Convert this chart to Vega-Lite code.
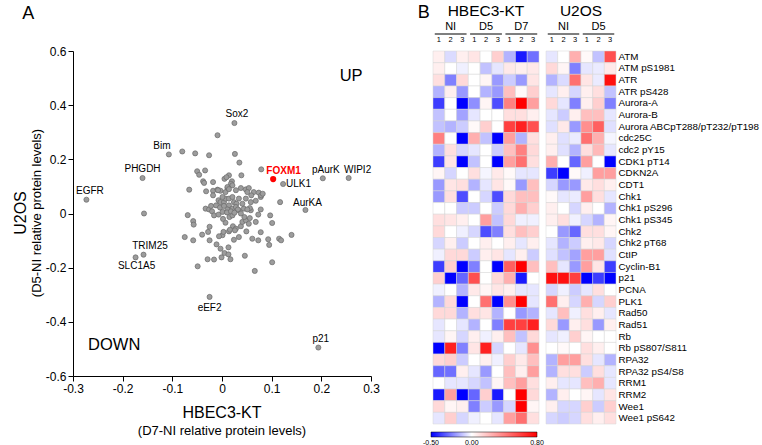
{
"$schema":"https://vega.github.io/schema/vega-lite/v6.json",
"padding":{"left":13,"top":3,"right":0,"bottom":0},
"datasets":{
"points":[{"x":-0.273,"y":0.051},{"x":-0.16,"y":0.131},{"x":-0.157,"y":0.0},{"x":-0.107,"y":0.218},{"x":-0.08,"y":0.229},{"x":-0.054,"y":0.222},{"x":-0.026,"y":0.215},{"x":-0.009,"y":0.289},{"x":0.025,"y":0.334},{"x":0.026,"y":0.22},{"x":0.035,"y":0.188},{"x":-0.05,"y":0.156},{"x":-0.046,"y":0.143},{"x":-0.034,"y":0.159},{"x":-0.038,"y":0.119},{"x":-0.036,"y":0.113},{"x":-0.018,"y":0.116},{"x":-0.066,"y":0.088},{"x":-0.032,"y":0.082},{"x":-0.018,"y":0.084},{"x":-0.009,"y":0.088},{"x":-0.003,"y":0.084},{"x":0.005,"y":0.128},{"x":0.014,"y":0.141},{"x":0.039,"y":0.141},{"x":0.079,"y":0.163},{"x":0.123,"y":0.109},{"x":0.203,"y":0.13},{"x":0.255,"y":0.131},{"x":0.168,"y":0.013},{"x":0.117,"y":0.042},{"x":0.009,"y":0.134},{"x":0.02,"y":0.119},{"x":0.018,"y":0.11},{"x":0.021,"y":0.104},{"x":0.011,"y":0.094},{"x":0.007,"y":0.079},{"x":0.028,"y":0.086},{"x":0.038,"y":0.094},{"x":0.048,"y":0.089},{"x":0.054,"y":0.094},{"x":0.051,"y":0.079},{"x":0.064,"y":0.079},{"x":0.074,"y":0.077},{"x":0.078,"y":0.061},{"x":0.068,"y":0.047},{"x":0.058,"y":0.042},{"x":0.058,"y":0.012},{"x":0.056,"y":0.02},{"x":0.078,"y":0.015},{"x":-0.007,"y":0.049},{"x":-0.003,"y":0.042},{"x":0.004,"y":0.042},{"x":0.007,"y":0.055},{"x":0.014,"y":0.055},{"x":0.021,"y":0.061},{"x":0.024,"y":0.042},{"x":0.029,"y":0.036},{"x":-0.018,"y":0.067},{"x":0.001,"y":0.061},{"x":0.014,"y":0.03},{"x":0.021,"y":0.018},{"x":0.034,"y":0.012},{"x":0.044,"y":0.018},{"x":0.041,"y":0.036},{"x":0.034,"y":0.055},{"x":0.048,"y":0.055},{"x":-0.008,"y":0.086},{"x":0.011,"y":0.098},{"x":0.014,"y":0.09},{"x":0.059,"y":0.067},{"x":0.079,"y":0.067},{"x":0.082,"y":0.073},{"x":-0.069,"y":-0.006},{"x":-0.033,"y":0.018},{"x":-0.026,"y":0.015},{"x":-0.02,"y":0.008},{"x":-0.016,"y":-0.007},{"x":-0.007,"y":-0.004},{"x":0.001,"y":0.006},{"x":0.011,"y":0.015},{"x":0.015,"y":-0.013},{"x":0.021,"y":-0.007},{"x":0.028,"y":0.024},{"x":0.032,"y":0.015},{"x":0.051,"y":0.015},{"x":0.073,"y":-0.004},{"x":0.097,"y":-0.007},{"x":-0.058,"y":-0.028},{"x":-0.057,"y":-0.041},{"x":-0.075,"y":-0.087},{"x":-0.058,"y":-0.099},{"x":-0.04,"y":-0.078},{"x":-0.028,"y":-0.068},{"x":-0.025,"y":-0.049},{"x":-0.025,"y":-0.099},{"x":-0.158,"y":-0.152},{"x":-0.174,"y":-0.162},{"x":-0.049,"y":-0.195},{"x":-0.029,"y":-0.169},{"x":-0.016,"y":-0.17},{"x":-0.001,"y":-0.162},{"x":-0.025,"y":-0.308},{"x":0.066,"y":-0.212},{"x":0.046,"y":-0.156},{"x":0.101,"y":-0.18},{"x":0.093,"y":-0.095},{"x":0.095,"y":-0.116},{"x":0.115,"y":-0.093},{"x":0.119,"y":-0.099},{"x":0.14,"y":-0.079},{"x":0.101,"y":-0.035},{"x":0.078,"y":-0.069},{"x":0.061,"y":-0.093},{"x":0.073,"y":-0.099},{"x":0.049,"y":-0.066},{"x":0.034,"y":-0.087},{"x":0.024,"y":-0.097},{"x":0.014,"y":-0.066},{"x":0.001,"y":-0.08},{"x":-0.006,"y":-0.084},{"x":0.003,"y":-0.068},{"x":-0.011,"y":-0.114},{"x":-0.003,"y":-0.13},{"x":0.013,"y":-0.125},{"x":0.005,"y":-0.146},{"x":0.013,"y":-0.151},{"x":0.017,"y":-0.169},{"x":0.007,"y":-0.034},{"x":0.022,"y":-0.047},{"x":0.028,"y":-0.056},{"x":0.038,"y":-0.047},{"x":0.041,"y":-0.031},{"x":0.048,"y":-0.025},{"x":0.045,"y":-0.013},{"x":0.056,"y":-0.017},{"x":0.194,"y":-0.495},{"x":-0.012,"y":0.03},{"x":-0.004,"y":0.022},{"x":0.004,"y":0.028},{"x":0.01,"y":0.004},{"x":0.018,"y":0.008},{"x":0.025,"y":0.003},{"x":0.038,"y":0.0},{"x":-0.022,"y":0.028},{"x":0.002,"y":-0.02},{"x":0.068,"y":-0.031},{"x":0.054,"y":-0.038},{"x":0.016,"y":-0.06},{"x":0.026,"y":-0.062}],
"labels":[{"label":"EGFR","x":-0.266,"y":0.082},{"label":"PHGDH","x":-0.16,"y":0.165},{"label":"Bim","x":-0.121,"y":0.249},{"label":"Sox2","x":0.03,"y":0.366},{"label":"ULK1","x":0.154,"y":0.11},{"label":"pAurK","x":0.209,"y":0.16},{"label":"WIPI2","x":0.273,"y":0.16},{"label":"AurKA","x":0.172,"y":0.039},{"label":"TRIM25","x":-0.145,"y":-0.12},{"label":"SLC1A5","x":-0.172,"y":-0.195},{"label":"eEF2","x":-0.025,"y":-0.349},{"label":"p21","x":0.199,"y":-0.464}],
"hbec":[
{"protein":"ATM","col":"NI-1","value":0.05},{"protein":"ATM","col":"NI-2","value":-0.07},{"protein":"ATM","col":"NI-3","value":0.05},{"protein":"ATM","col":"D5-1","value":0.08},{"protein":"ATM","col":"D5-2","value":0},{"protein":"ATM","col":"D5-3","value":0.15},{"protein":"ATM","col":"D7-1","value":-0.15},{"protein":"ATM","col":"D7-2","value":-0.45},{"protein":"ATM","col":"D7-3","value":-0.28},
{"protein":"ATM pS1981","col":"NI-1","value":0.05},{"protein":"ATM pS1981","col":"NI-2","value":0},{"protein":"ATM pS1981","col":"NI-3","value":-0.03},{"protein":"ATM pS1981","col":"D5-1","value":0},{"protein":"ATM pS1981","col":"D5-2","value":-0.12},{"protein":"ATM pS1981","col":"D5-3","value":-0.05},{"protein":"ATM pS1981","col":"D7-1","value":0.07},{"protein":"ATM pS1981","col":"D7-2","value":0.05},{"protein":"ATM pS1981","col":"D7-3","value":0.07},
{"protein":"ATR","col":"NI-1","value":0.1},{"protein":"ATR","col":"NI-2","value":-0.25},{"protein":"ATR","col":"NI-3","value":0.12},{"protein":"ATR","col":"D5-1","value":0},{"protein":"ATR","col":"D5-2","value":0.03},{"protein":"ATR","col":"D5-3","value":-0.2},{"protein":"ATR","col":"D7-1","value":-0.1},{"protein":"ATR","col":"D7-2","value":-0.2},{"protein":"ATR","col":"D7-3","value":0.08},
{"protein":"ATR pS428","col":"NI-1","value":-0.15},{"protein":"ATR pS428","col":"NI-2","value":0.05},{"protein":"ATR pS428","col":"NI-3","value":-0.2},{"protein":"ATR pS428","col":"D5-1","value":0},{"protein":"ATR pS428","col":"D5-2","value":-0.15},{"protein":"ATR pS428","col":"D5-3","value":-0.2},{"protein":"ATR pS428","col":"D7-1","value":0.2},{"protein":"ATR pS428","col":"D7-2","value":0.02},{"protein":"ATR pS428","col":"D7-3","value":0.15},
{"protein":"Aurora-A","col":"NI-1","value":-0.38},{"protein":"Aurora-A","col":"NI-2","value":0},{"protein":"Aurora-A","col":"NI-3","value":-0.5},{"protein":"Aurora-A","col":"D5-1","value":-0.22},{"protein":"Aurora-A","col":"D5-2","value":0.03},{"protein":"Aurora-A","col":"D5-3","value":-0.35},{"protein":"Aurora-A","col":"D7-1","value":0.4},{"protein":"Aurora-A","col":"D7-2","value":0.8},{"protein":"Aurora-A","col":"D7-3","value":0.3},
{"protein":"Aurora-B","col":"NI-1","value":-0.12},{"protein":"Aurora-B","col":"NI-2","value":0},{"protein":"Aurora-B","col":"NI-3","value":-0.18},{"protein":"Aurora-B","col":"D5-1","value":-0.05},{"protein":"Aurora-B","col":"D5-2","value":0},{"protein":"Aurora-B","col":"D5-3","value":0},{"protein":"Aurora-B","col":"D7-1","value":0.1},{"protein":"Aurora-B","col":"D7-2","value":0.1},{"protein":"Aurora-B","col":"D7-3","value":0.05},
{"protein":"Aurora ABCpT288/pT232/pT198","col":"NI-1","value":-0.12},{"protein":"Aurora ABCpT288/pT232/pT198","col":"NI-2","value":-0.15},{"protein":"Aurora ABCpT288/pT232/pT198","col":"NI-3","value":-0.1},{"protein":"Aurora ABCpT288/pT232/pT198","col":"D5-1","value":0.02},{"protein":"Aurora ABCpT288/pT232/pT198","col":"D5-2","value":0.15},{"protein":"Aurora ABCpT288/pT232/pT198","col":"D5-3","value":0},{"protein":"Aurora ABCpT288/pT232/pT198","col":"D7-1","value":0.6},{"protein":"Aurora ABCpT288/pT232/pT198","col":"D7-2","value":0.7},{"protein":"Aurora ABCpT288/pT232/pT198","col":"D7-3","value":0.55},
{"protein":"cdc25C","col":"NI-1","value":0.4},{"protein":"cdc25C","col":"NI-2","value":0},{"protein":"cdc25C","col":"NI-3","value":-0.5},{"protein":"cdc25C","col":"D5-1","value":0.25},{"protein":"cdc25C","col":"D5-2","value":-0.12},{"protein":"cdc25C","col":"D5-3","value":-0.5},{"protein":"cdc25C","col":"D7-1","value":0.3},{"protein":"cdc25C","col":"D7-2","value":-0.15},{"protein":"cdc25C","col":"D7-3","value":0.1},
{"protein":"cdc2 pY15","col":"NI-1","value":-0.15},{"protein":"cdc2 pY15","col":"NI-2","value":0.1},{"protein":"cdc2 pY15","col":"NI-3","value":-0.08},{"protein":"cdc2 pY15","col":"D5-1","value":-0.05},{"protein":"cdc2 pY15","col":"D5-2","value":0},{"protein":"cdc2 pY15","col":"D5-3","value":-0.1},{"protein":"cdc2 pY15","col":"D7-1","value":0.2},{"protein":"cdc2 pY15","col":"D7-2","value":0.4},{"protein":"cdc2 pY15","col":"D7-3","value":0.12},
{"protein":"CDK1 pT14","col":"NI-1","value":-0.38},{"protein":"CDK1 pT14","col":"NI-2","value":0.08},{"protein":"CDK1 pT14","col":"NI-3","value":-0.5},{"protein":"CDK1 pT14","col":"D5-1","value":-0.12},{"protein":"CDK1 pT14","col":"D5-2","value":0},{"protein":"CDK1 pT14","col":"D5-3","value":-0.5},{"protein":"CDK1 pT14","col":"D7-1","value":0.3},{"protein":"CDK1 pT14","col":"D7-2","value":0.45},{"protein":"CDK1 pT14","col":"D7-3","value":0.1},
{"protein":"CDKN2A","col":"NI-1","value":0.03},{"protein":"CDKN2A","col":"NI-2","value":-0.08},{"protein":"CDKN2A","col":"NI-3","value":0},{"protein":"CDKN2A","col":"D5-1","value":0.1},{"protein":"CDKN2A","col":"D5-2","value":-0.02},{"protein":"CDKN2A","col":"D5-3","value":0.07},{"protein":"CDKN2A","col":"D7-1","value":0.02},{"protein":"CDKN2A","col":"D7-2","value":-0.05},{"protein":"CDKN2A","col":"D7-3","value":-0.05},
{"protein":"CDT1","col":"NI-1","value":-0.2},{"protein":"CDT1","col":"NI-2","value":0.08},{"protein":"CDT1","col":"NI-3","value":0.1},{"protein":"CDT1","col":"D5-1","value":-0.15},{"protein":"CDT1","col":"D5-2","value":-0.05},{"protein":"CDT1","col":"D5-3","value":0.08},{"protein":"CDT1","col":"D7-1","value":0.02},{"protein":"CDT1","col":"D7-2","value":-0.2},{"protein":"CDT1","col":"D7-3","value":0.2},
{"protein":"Chk1","col":"NI-1","value":-0.2},{"protein":"Chk1","col":"NI-2","value":0.1},{"protein":"Chk1","col":"NI-3","value":-0.35},{"protein":"Chk1","col":"D5-1","value":0},{"protein":"Chk1","col":"D5-2","value":-0.08},{"protein":"Chk1","col":"D5-3","value":-0.35},{"protein":"Chk1","col":"D7-1","value":0.12},{"protein":"Chk1","col":"D7-2","value":0.2},{"protein":"Chk1","col":"D7-3","value":0.2},
{"protein":"Chk1 pS296","col":"NI-1","value":0},{"protein":"Chk1 pS296","col":"NI-2","value":0},{"protein":"Chk1 pS296","col":"NI-3","value":-0.1},{"protein":"Chk1 pS296","col":"D5-1","value":-0.1},{"protein":"Chk1 pS296","col":"D5-2","value":0},{"protein":"Chk1 pS296","col":"D5-3","value":-0.1},{"protein":"Chk1 pS296","col":"D7-1","value":0.12},{"protein":"Chk1 pS296","col":"D7-2","value":0.25},{"protein":"Chk1 pS296","col":"D7-3","value":0.15},
{"protein":"Chk1 pS345","col":"NI-1","value":0.1},{"protein":"Chk1 pS345","col":"NI-2","value":0.08},{"protein":"Chk1 pS345","col":"NI-3","value":0.05},{"protein":"Chk1 pS345","col":"D5-1","value":0},{"protein":"Chk1 pS345","col":"D5-2","value":0.3},{"protein":"Chk1 pS345","col":"D5-3","value":-0.12},{"protein":"Chk1 pS345","col":"D7-1","value":0.12},{"protein":"Chk1 pS345","col":"D7-2","value":-0.03},{"protein":"Chk1 pS345","col":"D7-3","value":-0.03},
{"protein":"Chk2","col":"NI-1","value":0.12},{"protein":"Chk2","col":"NI-2","value":0},{"protein":"Chk2","col":"NI-3","value":-0.03},{"protein":"Chk2","col":"D5-1","value":-0.08},{"protein":"Chk2","col":"D5-2","value":-0.35},{"protein":"Chk2","col":"D5-3","value":-0.25},{"protein":"Chk2","col":"D7-1","value":0.1},{"protein":"Chk2","col":"D7-2","value":0.2},{"protein":"Chk2","col":"D7-3","value":0.15},
{"protein":"Chk2 pT68","col":"NI-1","value":-0.08},{"protein":"Chk2 pT68","col":"NI-2","value":0.05},{"protein":"Chk2 pT68","col":"NI-3","value":-0.1},{"protein":"Chk2 pT68","col":"D5-1","value":0},{"protein":"Chk2 pT68","col":"D5-2","value":0.05},{"protein":"Chk2 pT68","col":"D5-3","value":0},{"protein":"Chk2 pT68","col":"D7-1","value":0.05},{"protein":"Chk2 pT68","col":"D7-2","value":-0.05},{"protein":"Chk2 pT68","col":"D7-3","value":0.05},
{"protein":"CtIP","col":"NI-1","value":-0.03},{"protein":"CtIP","col":"NI-2","value":0.12},{"protein":"CtIP","col":"NI-3","value":0.12},{"protein":"CtIP","col":"D5-1","value":-0.1},{"protein":"CtIP","col":"D5-2","value":0.05},{"protein":"CtIP","col":"D5-3","value":0.08},{"protein":"CtIP","col":"D7-1","value":-0.05},{"protein":"CtIP","col":"D7-2","value":0.05},{"protein":"CtIP","col":"D7-3","value":-0.1},
{"protein":"Cyclin-B1","col":"NI-1","value":-0.38},{"protein":"Cyclin-B1","col":"NI-2","value":0.15},{"protein":"Cyclin-B1","col":"NI-3","value":-0.5},{"protein":"Cyclin-B1","col":"D5-1","value":-0.25},{"protein":"Cyclin-B1","col":"D5-2","value":0},{"protein":"Cyclin-B1","col":"D5-3","value":-0.5},{"protein":"Cyclin-B1","col":"D7-1","value":0.5},{"protein":"Cyclin-B1","col":"D7-2","value":0.8},{"protein":"Cyclin-B1","col":"D7-3","value":0.2},
{"protein":"p21","col":"NI-1","value":0.15},{"protein":"p21","col":"NI-2","value":-0.5},{"protein":"p21","col":"NI-3","value":-0.3},{"protein":"p21","col":"D5-1","value":0.55},{"protein":"p21","col":"D5-2","value":0},{"protein":"p21","col":"D5-3","value":0.12},{"protein":"p21","col":"D7-1","value":0.25},{"protein":"p21","col":"D7-2","value":-0.45},{"protein":"p21","col":"D7-3","value":0},
{"protein":"PCNA","col":"NI-1","value":-0.03},{"protein":"PCNA","col":"NI-2","value":0},{"protein":"PCNA","col":"NI-3","value":-0.15},{"protein":"PCNA","col":"D5-1","value":0.07},{"protein":"PCNA","col":"D5-2","value":0.03},{"protein":"PCNA","col":"D5-3","value":0.08},{"protein":"PCNA","col":"D7-1","value":0.05},{"protein":"PCNA","col":"D7-2","value":-0.05},{"protein":"PCNA","col":"D7-3","value":-0.05},
{"protein":"PLK1","col":"NI-1","value":-0.15},{"protein":"PLK1","col":"NI-2","value":0.12},{"protein":"PLK1","col":"NI-3","value":-0.5},{"protein":"PLK1","col":"D5-1","value":0},{"protein":"PLK1","col":"D5-2","value":0.45},{"protein":"PLK1","col":"D5-3","value":-0.5},{"protein":"PLK1","col":"D7-1","value":0.35},{"protein":"PLK1","col":"D7-2","value":0.8},{"protein":"PLK1","col":"D7-3","value":-0.05},
{"protein":"Rad50","col":"NI-1","value":0.12},{"protein":"Rad50","col":"NI-2","value":0.12},{"protein":"Rad50","col":"NI-3","value":-0.15},{"protein":"Rad50","col":"D5-1","value":0.1},{"protein":"Rad50","col":"D5-2","value":0.08},{"protein":"Rad50","col":"D5-3","value":-0.15},{"protein":"Rad50","col":"D7-1","value":0},{"protein":"Rad50","col":"D7-2","value":-0.2},{"protein":"Rad50","col":"D7-3","value":-0.15},
{"protein":"Rad51","col":"NI-1","value":-0.05},{"protein":"Rad51","col":"NI-2","value":0},{"protein":"Rad51","col":"NI-3","value":-0.05},{"protein":"Rad51","col":"D5-1","value":-0.15},{"protein":"Rad51","col":"D5-2","value":0},{"protein":"Rad51","col":"D5-3","value":-0.25},{"protein":"Rad51","col":"D7-1","value":0.6},{"protein":"Rad51","col":"D7-2","value":0.6},{"protein":"Rad51","col":"D7-3","value":0.7},
{"protein":"Rb","col":"NI-1","value":-0.05},{"protein":"Rb","col":"NI-2","value":0.03},{"protein":"Rb","col":"NI-3","value":-0.08},{"protein":"Rb","col":"D5-1","value":0.05},{"protein":"Rb","col":"D5-2","value":-0.03},{"protein":"Rb","col":"D5-3","value":0.05},{"protein":"Rb","col":"D7-1","value":0.2},{"protein":"Rb","col":"D7-2","value":-0.12},{"protein":"Rb","col":"D7-3","value":0.12},
{"protein":"Rb pS807/S811","col":"NI-1","value":-0.5},{"protein":"Rb pS807/S811","col":"NI-2","value":0.7},{"protein":"Rb pS807/S811","col":"NI-3","value":-0.25},{"protein":"Rb pS807/S811","col":"D5-1","value":0.08},{"protein":"Rb pS807/S811","col":"D5-2","value":0.7},{"protein":"Rb pS807/S811","col":"D5-3","value":-0.08},{"protein":"Rb pS807/S811","col":"D7-1","value":0},{"protein":"Rb pS807/S811","col":"D7-2","value":-0.05},{"protein":"Rb pS807/S811","col":"D7-3","value":0.35},
{"protein":"RPA32","col":"NI-1","value":0.12},{"protein":"RPA32","col":"NI-2","value":0.15},{"protein":"RPA32","col":"NI-3","value":-0.1},{"protein":"RPA32","col":"D5-1","value":0},{"protein":"RPA32","col":"D5-2","value":0.05},{"protein":"RPA32","col":"D5-3","value":-0.03},{"protein":"RPA32","col":"D7-1","value":0.15},{"protein":"RPA32","col":"D7-2","value":0.07},{"protein":"RPA32","col":"D7-3","value":0.2},
{"protein":"RPA32 pS4/S8","col":"NI-1","value":-0.3},{"protein":"RPA32 pS4/S8","col":"NI-2","value":-0.28},{"protein":"RPA32 pS4/S8","col":"NI-3","value":0.05},{"protein":"RPA32 pS4/S8","col":"D5-1","value":-0.05},{"protein":"RPA32 pS4/S8","col":"D5-2","value":-0.2},{"protein":"RPA32 pS4/S8","col":"D5-3","value":0},{"protein":"RPA32 pS4/S8","col":"D7-1","value":0.2},{"protein":"RPA32 pS4/S8","col":"D7-2","value":0.05},{"protein":"RPA32 pS4/S8","col":"D7-3","value":0.3},
{"protein":"RRM1","col":"NI-1","value":0},{"protein":"RRM1","col":"NI-2","value":-0.05},{"protein":"RRM1","col":"NI-3","value":-0.05},{"protein":"RRM1","col":"D5-1","value":-0.08},{"protein":"RRM1","col":"D5-2","value":-0.12},{"protein":"RRM1","col":"D5-3","value":0.03},{"protein":"RRM1","col":"D7-1","value":0.2},{"protein":"RRM1","col":"D7-2","value":0.3},{"protein":"RRM1","col":"D7-3","value":0.1},
{"protein":"RRM2","col":"NI-1","value":-0.45},{"protein":"RRM2","col":"NI-2","value":0.3},{"protein":"RRM2","col":"NI-3","value":-0.5},{"protein":"RRM2","col":"D5-1","value":-0.3},{"protein":"RRM2","col":"D5-2","value":0.15},{"protein":"RRM2","col":"D5-3","value":-0.45},{"protein":"RRM2","col":"D7-1","value":0},{"protein":"RRM2","col":"D7-2","value":0.8},{"protein":"RRM2","col":"D7-3","value":0.12},
{"protein":"Wee1","col":"NI-1","value":0.12},{"protein":"Wee1","col":"NI-2","value":0.03},{"protein":"Wee1","col":"NI-3","value":0.05},{"protein":"Wee1","col":"D5-1","value":-0.25},{"protein":"Wee1","col":"D5-2","value":-0.1},{"protein":"Wee1","col":"D5-3","value":-0.2},{"protein":"Wee1","col":"D7-1","value":-0.08},{"protein":"Wee1","col":"D7-2","value":0.8},{"protein":"Wee1","col":"D7-3","value":0.03},
{"protein":"Wee1 pS642","col":"NI-1","value":-0.05},{"protein":"Wee1 pS642","col":"NI-2","value":0.15},{"protein":"Wee1 pS642","col":"NI-3","value":-0.08},{"protein":"Wee1 pS642","col":"D5-1","value":-0.03},{"protein":"Wee1 pS642","col":"D5-2","value":0},{"protein":"Wee1 pS642","col":"D5-3","value":-0.05},{"protein":"Wee1 pS642","col":"D7-1","value":0.3},{"protein":"Wee1 pS642","col":"D7-2","value":0.45},{"protein":"Wee1 pS642","col":"D7-3","value":0.1}
],
"u2os":[
{"protein":"ATM","col":"NI-1","value":-0.05},{"protein":"ATM","col":"NI-2","value":0},{"protein":"ATM","col":"NI-3","value":0.25},{"protein":"ATM","col":"D5-1","value":0.02},{"protein":"ATM","col":"D5-2","value":-0.12},{"protein":"ATM","col":"D5-3","value":0.55},
{"protein":"ATM pS1981","col":"NI-1","value":0.12},{"protein":"ATM pS1981","col":"NI-2","value":0.03},{"protein":"ATM pS1981","col":"NI-3","value":-0.25},{"protein":"ATM pS1981","col":"D5-1","value":-0.05},{"protein":"ATM pS1981","col":"D5-2","value":-0.04},{"protein":"ATM pS1981","col":"D5-3","value":0.07},
{"protein":"ATR","col":"NI-1","value":-0.15},{"protein":"ATR","col":"NI-2","value":-0.07},{"protein":"ATR","col":"NI-3","value":0.45},{"protein":"ATR","col":"D5-1","value":0.08},{"protein":"ATR","col":"D5-2","value":-0.04},{"protein":"ATR","col":"D5-3","value":0.75},
{"protein":"ATR pS428","col":"NI-1","value":-0.05},{"protein":"ATR pS428","col":"NI-2","value":0.05},{"protein":"ATR pS428","col":"NI-3","value":-0.08},{"protein":"ATR pS428","col":"D5-1","value":0.05},{"protein":"ATR pS428","col":"D5-2","value":0.1},{"protein":"ATR pS428","col":"D5-3","value":-0.12},
{"protein":"Aurora-A","col":"NI-1","value":0.12},{"protein":"Aurora-A","col":"NI-2","value":-0.05},{"protein":"Aurora-A","col":"NI-3","value":-0.25},{"protein":"Aurora-A","col":"D5-1","value":0.05},{"protein":"Aurora-A","col":"D5-2","value":0.15},{"protein":"Aurora-A","col":"D5-3","value":-0.25},
{"protein":"Aurora-B","col":"NI-1","value":-0.05},{"protein":"Aurora-B","col":"NI-2","value":-0.1},{"protein":"Aurora-B","col":"NI-3","value":0.05},{"protein":"Aurora-B","col":"D5-1","value":0.2},{"protein":"Aurora-B","col":"D5-2","value":0.2},{"protein":"Aurora-B","col":"D5-3","value":-0.05},
{"protein":"Aurora ABCpT288/pT232/pT198","col":"NI-1","value":-0.06},{"protein":"Aurora ABCpT288/pT232/pT198","col":"NI-2","value":0.07},{"protein":"Aurora ABCpT288/pT232/pT198","col":"NI-3","value":-0.2},{"protein":"Aurora ABCpT288/pT232/pT198","col":"D5-1","value":0.35},{"protein":"Aurora ABCpT288/pT232/pT198","col":"D5-2","value":0.5},{"protein":"Aurora ABCpT288/pT232/pT198","col":"D5-3","value":-0.06},
{"protein":"cdc25C","col":"NI-1","value":0.05},{"protein":"cdc25C","col":"NI-2","value":-0.06},{"protein":"cdc25C","col":"NI-3","value":-0.04},{"protein":"cdc25C","col":"D5-1","value":0.45},{"protein":"cdc25C","col":"D5-2","value":0.25},{"protein":"cdc25C","col":"D5-3","value":-0.02},
{"protein":"cdc2 pY15","col":"NI-1","value":0.05},{"protein":"cdc2 pY15","col":"NI-2","value":-0.06},{"protein":"cdc2 pY15","col":"NI-3","value":-0.15},{"protein":"cdc2 pY15","col":"D5-1","value":0.1},{"protein":"cdc2 pY15","col":"D5-2","value":0.22},{"protein":"cdc2 pY15","col":"D5-3","value":-0.05},
{"protein":"CDK1 pT14","col":"NI-1","value":0.25},{"protein":"CDK1 pT14","col":"NI-2","value":0},{"protein":"CDK1 pT14","col":"NI-3","value":-0.3},{"protein":"CDK1 pT14","col":"D5-1","value":0.3},{"protein":"CDK1 pT14","col":"D5-2","value":0},{"protein":"CDK1 pT14","col":"D5-3","value":-0.5},
{"protein":"CDKN2A","col":"NI-1","value":-0.38},{"protein":"CDKN2A","col":"NI-2","value":-0.5},{"protein":"CDKN2A","col":"NI-3","value":0.02},{"protein":"CDKN2A","col":"D5-1","value":-0.03},{"protein":"CDKN2A","col":"D5-2","value":0.3},{"protein":"CDKN2A","col":"D5-3","value":0.3},
{"protein":"CDT1","col":"NI-1","value":-0.08},{"protein":"CDT1","col":"NI-2","value":-0.2},{"protein":"CDT1","col":"NI-3","value":-0.2},{"protein":"CDT1","col":"D5-1","value":0.07},{"protein":"CDT1","col":"D5-2","value":0.1},{"protein":"CDT1","col":"D5-3","value":0.05},
{"protein":"Chk1","col":"NI-1","value":0.02},{"protein":"Chk1","col":"NI-2","value":-0.05},{"protein":"Chk1","col":"NI-3","value":-0.04},{"protein":"Chk1","col":"D5-1","value":0.3},{"protein":"Chk1","col":"D5-2","value":0.1},{"protein":"Chk1","col":"D5-3","value":-0.05},
{"protein":"Chk1 pS296","col":"NI-1","value":0.05},{"protein":"Chk1 pS296","col":"NI-2","value":0},{"protein":"Chk1 pS296","col":"NI-3","value":-0.08},{"protein":"Chk1 pS296","col":"D5-1","value":0.05},{"protein":"Chk1 pS296","col":"D5-2","value":0},{"protein":"Chk1 pS296","col":"D5-3","value":-0.15},
{"protein":"Chk1 pS345","col":"NI-1","value":0.05},{"protein":"Chk1 pS345","col":"NI-2","value":0.1},{"protein":"Chk1 pS345","col":"NI-3","value":-0.03},{"protein":"Chk1 pS345","col":"D5-1","value":-0.08},{"protein":"Chk1 pS345","col":"D5-2","value":-0.15},{"protein":"Chk1 pS345","col":"D5-3","value":0.03},
{"protein":"Chk2","col":"NI-1","value":0},{"protein":"Chk2","col":"NI-2","value":-0.2},{"protein":"Chk2","col":"NI-3","value":-0.3},{"protein":"Chk2","col":"D5-1","value":0.1},{"protein":"Chk2","col":"D5-2","value":0.1},{"protein":"Chk2","col":"D5-3","value":0.03},
{"protein":"Chk2 pT68","col":"NI-1","value":-0.05},{"protein":"Chk2 pT68","col":"NI-2","value":-0.15},{"protein":"Chk2 pT68","col":"NI-3","value":-0.1},{"protein":"Chk2 pT68","col":"D5-1","value":0.05},{"protein":"Chk2 pT68","col":"D5-2","value":0.07},{"protein":"Chk2 pT68","col":"D5-3","value":-0.08},
{"protein":"CtIP","col":"NI-1","value":-0.06},{"protein":"CtIP","col":"NI-2","value":-0.12},{"protein":"CtIP","col":"NI-3","value":-0.18},{"protein":"CtIP","col":"D5-1","value":0.3},{"protein":"CtIP","col":"D5-2","value":0.3},{"protein":"CtIP","col":"D5-3","value":-0.06},
{"protein":"Cyclin-B1","col":"NI-1","value":0.2},{"protein":"Cyclin-B1","col":"NI-2","value":-0.05},{"protein":"Cyclin-B1","col":"NI-3","value":-0.2},{"protein":"Cyclin-B1","col":"D5-1","value":0.3},{"protein":"Cyclin-B1","col":"D5-2","value":0.08},{"protein":"Cyclin-B1","col":"D5-3","value":-0.38},
{"protein":"p21","col":"NI-1","value":0.75},{"protein":"p21","col":"NI-2","value":0.75},{"protein":"p21","col":"NI-3","value":0.6},{"protein":"p21","col":"D5-1","value":-0.5},{"protein":"p21","col":"D5-2","value":-0.38},{"protein":"p21","col":"D5-3","value":-0.5},
{"protein":"PCNA","col":"NI-1","value":-0.08},{"protein":"PCNA","col":"NI-2","value":-0.03},{"protein":"PCNA","col":"NI-3","value":-0.1},{"protein":"PCNA","col":"D5-1","value":-0.05},{"protein":"PCNA","col":"D5-2","value":0.1},{"protein":"PCNA","col":"D5-3","value":0},
{"protein":"PLK1","col":"NI-1","value":0.45},{"protein":"PLK1","col":"NI-2","value":0.05},{"protein":"PLK1","col":"NI-3","value":-0.08},{"protein":"PLK1","col":"D5-1","value":0.25},{"protein":"PLK1","col":"D5-2","value":-0.08},{"protein":"PLK1","col":"D5-3","value":0.15},
{"protein":"Rad50","col":"NI-1","value":-0.05},{"protein":"Rad50","col":"NI-2","value":0.2},{"protein":"Rad50","col":"NI-3","value":-0.03},{"protein":"Rad50","col":"D5-1","value":0.1},{"protein":"Rad50","col":"D5-2","value":0.05},{"protein":"Rad50","col":"D5-3","value":-0.05},
{"protein":"Rad51","col":"NI-1","value":0.12},{"protein":"Rad51","col":"NI-2","value":-0.2},{"protein":"Rad51","col":"NI-3","value":0.05},{"protein":"Rad51","col":"D5-1","value":0.1},{"protein":"Rad51","col":"D5-2","value":-0.2},{"protein":"Rad51","col":"D5-3","value":0.05},
{"protein":"Rb","col":"NI-1","value":-0.05},{"protein":"Rb","col":"NI-2","value":-0.03},{"protein":"Rb","col":"NI-3","value":0.15},{"protein":"Rb","col":"D5-1","value":0.03},{"protein":"Rb","col":"D5-2","value":0},{"protein":"Rb","col":"D5-3","value":0},
{"protein":"Rb pS807/S811","col":"NI-1","value":0},{"protein":"Rb pS807/S811","col":"NI-2","value":0.02},{"protein":"Rb pS807/S811","col":"NI-3","value":0},{"protein":"Rb pS807/S811","col":"D5-1","value":0.1},{"protein":"Rb pS807/S811","col":"D5-2","value":0.05},{"protein":"Rb pS807/S811","col":"D5-3","value":0},
{"protein":"RPA32","col":"NI-1","value":-0.15},{"protein":"RPA32","col":"NI-2","value":0.3},{"protein":"RPA32","col":"NI-3","value":0.3},{"protein":"RPA32","col":"D5-1","value":0.1},{"protein":"RPA32","col":"D5-2","value":-0.05},{"protein":"RPA32","col":"D5-3","value":-0.15},
{"protein":"RPA32 pS4/S8","col":"NI-1","value":-0.15},{"protein":"RPA32 pS4/S8","col":"NI-2","value":0.1},{"protein":"RPA32 pS4/S8","col":"NI-3","value":0.1},{"protein":"RPA32 pS4/S8","col":"D5-1","value":-0.1},{"protein":"RPA32 pS4/S8","col":"D5-2","value":0.1},{"protein":"RPA32 pS4/S8","col":"D5-3","value":-0.05},
{"protein":"RRM1","col":"NI-1","value":0.05},{"protein":"RRM1","col":"NI-2","value":-0.05},{"protein":"RRM1","col":"NI-3","value":-0.05},{"protein":"RRM1","col":"D5-1","value":0.2},{"protein":"RRM1","col":"D5-2","value":0.25},{"protein":"RRM1","col":"D5-3","value":-0.05},
{"protein":"RRM2","col":"NI-1","value":-0.15},{"protein":"RRM2","col":"NI-2","value":0.05},{"protein":"RRM2","col":"NI-3","value":0},{"protein":"RRM2","col":"D5-1","value":0.03},{"protein":"RRM2","col":"D5-2","value":-0.05},{"protein":"RRM2","col":"D5-3","value":0.08},
{"protein":"Wee1","col":"NI-1","value":0.05},{"protein":"Wee1","col":"NI-2","value":-0.08},{"protein":"Wee1","col":"NI-3","value":-0.08},{"protein":"Wee1","col":"D5-1","value":0.15},{"protein":"Wee1","col":"D5-2","value":-0.1},{"protein":"Wee1","col":"D5-3","value":0.15},
{"protein":"Wee1 pS642","col":"NI-1","value":-0.08},{"protein":"Wee1 pS642","col":"NI-2","value":-0.1},{"protein":"Wee1 pS642","col":"NI-3","value":-0.08},{"protein":"Wee1 pS642","col":"D5-1","value":0.1},{"protein":"Wee1 pS642","col":"D5-2","value":0.05},{"protein":"Wee1 pS642","col":"D5-3","value":0.1}
],
"condH":[{"cond":"NI"},{"cond":"D5"},{"cond":"D7"}],
"condU":[{"cond":"NI"},{"cond":"D5"}]
},
"hconcat":[
{
 "title":{"text":"A","anchor":"start","fontSize":18,"offset":22,"dx":9},
 "vconcat":[{
  "title":{"text":"U2OS","subtitle":"(D5-NI relative protein levels)","orient":"left","anchor":"middle","fontSize":16,"subtitleFontSize":13,"subtitlePadding":1.5,"offset":1.5,"dx":28.5},
  "vconcat":[{
   "width":298,"height":325,
   "title":{"text":"HBEC3-KT","subtitle":"(D7-NI relative protein levels)","orient":"bottom","anchor":"middle","fontSize":16,"subtitleFontSize":13,"subtitlePadding":4,"offset":11,"frame":"group"},
   "layer":[
    {"mark":{"type":"rule","color":"#a0a0a0","strokeWidth":1},"encoding":{"x":{"datum":0,"type":"quantitative","scale":{"domain":[-0.3,0.3],"nice":false}}}},
    {"mark":{"type":"rule","color":"#a0a0a0","strokeWidth":1},"encoding":{"y":{"datum":0,"type":"quantitative","scale":{"domain":[-0.6,0.6],"nice":false}}}},
    {"data":{"name":"points"},"mark":{"type":"circle","size":26,"color":"#9c9c9c","stroke":"#6a6a6a","strokeWidth":0.7,"opacity":1},
     "encoding":{
      "x":{"field":"x","type":"quantitative","scale":{"domain":[-0.3,0.3],"nice":false},"axis":{"values":[-0.3,-0.2,-0.1,0,0.1,0.2,0.3],"labelExpr":"replace(format(datum.value,'.1~f'),'−','-')","labelFlush":false,"grid":false,"title":null,"labelFontSize":12,"tickSize":5,"labelPadding":2}},
      "y":{"field":"y","type":"quantitative","scale":{"domain":[-0.6,0.6],"nice":false},"axis":{"values":[-0.6,-0.4,-0.2,0,0.2,0.4,0.6],"labelExpr":"replace(format(datum.value,'.1~f'),'−','-')","labelFlush":false,"grid":false,"title":null,"labelFontSize":12,"tickSize":5,"labelPadding":2}}}},
    {"data":{"values":[{"x":0.103,"y":0.127}]},"mark":{"type":"circle","size":38,"color":"#ff0000","opacity":1},"encoding":{"x":{"field":"x","type":"quantitative"},"y":{"field":"y","type":"quantitative"}}},
    {"data":{"name":"labels"},"mark":{"type":"text","fontSize":10,"color":"#000","baseline":"middle","align":"center"},"encoding":{"x":{"field":"x","type":"quantitative"},"y":{"field":"y","type":"quantitative"},"text":{"field":"label"}}},
    {"data":{"values":[{"label":"FOXM1","x":0.124,"y":0.157}]},"mark":{"type":"text","fontSize":10,"fontWeight":"bold","color":"#ff0000","baseline":"middle","align":"center"},"encoding":{"x":{"field":"x","type":"quantitative"},"y":{"field":"y","type":"quantitative"},"text":{"field":"label"}}},
    {"data":{"values":[{"label":"UP","x":0.26,"y":0.507},{"label":"DOWN","x":-0.217,"y":-0.487}]},"mark":{"type":"text","fontSize":16.5,"color":"#000","baseline":"middle","align":"center"},"encoding":{"x":{"field":"x","type":"quantitative"},"y":{"field":"y","type":"quantitative"},"text":{"field":"label"}}}
   ]
  }]
 }]
},
{
 "title":{"text":"B","anchor":"start","fontSize":18,"offset":-18,"dx":-15},
 "spacing":5,
 "hconcat":[
  {
   "width":106,"height":373,
   "title":{"text":"HBEC3-KT","fontSize":15.5,"offset":1.5,"frame":"group","anchor":"middle"},
   "resolve":{"scale":{"x":"independent","y":"independent"}},
   "layer":[
    {"data":{"name":"hbec"},"mark":{"type":"rect","stroke":"#d4d4d4","strokeWidth":0.5},
     "encoding":{
      "x":{"field":"col","type":"nominal","sort":null,"axis":{"orient":"top","labelExpr":"substring(datum.label,3)","labelAngle":0,"ticks":false,"domain":false,"labelFontSize":7.5,"labelPadding":7.5,"title":null}},
      "y":{"field":"protein","type":"nominal","sort":null,"axis":null},
      "color":{"field":"value","type":"quantitative","scale":{"type":"linear","domain":[-0.5,0,0.8],"range":["#0000ff","#ffffff","#ff0000"],"interpolate":"rgb","clamp":true},
       "legend":{"orient":"none","legendX":358,"legendY":381,"padding":0,"direction":"horizontal","gradientLength":106,"gradientThickness":5,"title":null,"values":[-0.5,0,0.8],"labelFontSize":7,"labelExpr":"replace(format(datum.value,'.2f'),'−','-')","gradientStrokeColor":"#000","gradientStrokeWidth":0.5,"labelOffset":2,"labelAlign":"center","encode":{"labels":{"update":{"align":{"value":"center"}}}}}}
     }},
    {"data":{"name":"condH"},"mark":{"type":"text","fontSize":11,"baseline":"middle","color":"#000"},
     "encoding":{"x":{"field":"cond","type":"nominal","sort":null,"axis":null,"scale":{"type":"band","paddingInner":0.1,"paddingOuter":0.05}},"y":{"datum":1.0649,"type":"quantitative","scale":{"domain":[0,1],"nice":false,"zero":false},"axis":null},"text":{"field":"cond"}}},
    {"data":{"name":"condH"},"mark":{"type":"bar","color":"#000"},
     "encoding":{"x":{"field":"cond","type":"nominal","sort":null,"axis":null,"scale":{"type":"band","paddingInner":0.1,"paddingOuter":0.05}},"y":{"datum":1.044,"type":"quantitative","scale":{"domain":[0,1],"nice":false,"zero":false},"axis":null},"y2":{"datum":1.0467}}}
   ]
  },
  {
   "width":70,"height":373,
   "title":{"text":"U2OS","fontSize":15.5,"offset":1.5,"frame":"group","anchor":"middle"},
   "resolve":{"scale":{"x":"independent","y":"independent"}},
   "layer":[
    {"data":{"name":"u2os"},"mark":{"type":"rect","stroke":"#d4d4d4","strokeWidth":0.5},
     "encoding":{
      "x":{"field":"col","type":"nominal","sort":null,"axis":{"orient":"top","labelExpr":"substring(datum.label,3)","labelAngle":0,"ticks":false,"domain":false,"labelFontSize":7.5,"labelPadding":7.5,"title":null}},
      "y":{"field":"protein","type":"nominal","sort":null,"axis":{"orient":"right","ticks":false,"domain":false,"labelFontSize":9.8,"labelPadding":2,"title":null}},
      "color":{"field":"value","type":"quantitative"}
     }},
    {"data":{"name":"condU"},"mark":{"type":"text","fontSize":11,"baseline":"middle","color":"#000"},
     "encoding":{"x":{"field":"cond","type":"nominal","sort":null,"axis":null,"scale":{"type":"band","paddingInner":0.1,"paddingOuter":0.05}},"y":{"datum":1.0649,"type":"quantitative","scale":{"domain":[0,1],"nice":false,"zero":false},"axis":null},"text":{"field":"cond"}}},
    {"data":{"name":"condU"},"mark":{"type":"bar","color":"#000"},
     "encoding":{"x":{"field":"cond","type":"nominal","sort":null,"axis":null,"scale":{"type":"band","paddingInner":0.1,"paddingOuter":0.05}},"y":{"datum":1.044,"type":"quantitative","scale":{"domain":[0,1],"nice":false,"zero":false},"axis":null},"y2":{"datum":1.0467}}}
   ]
  }
 ]
}
],
"spacing":37,
"config":{
 "font":"Liberation Sans",
 "view":{"stroke":null},
 "axis":{"labelColor":"#000","domainColor":"#000","tickColor":"#000","titleColor":"#000","labelFont":"Liberation Sans"},
 "title":{"color":"#000","subtitleColor":"#000","fontWeight":"normal","font":"Liberation Sans","subtitleFont":"Liberation Sans"},
 "legend":{"labelColor":"#000","labelFont":"Liberation Sans"}
}
}
